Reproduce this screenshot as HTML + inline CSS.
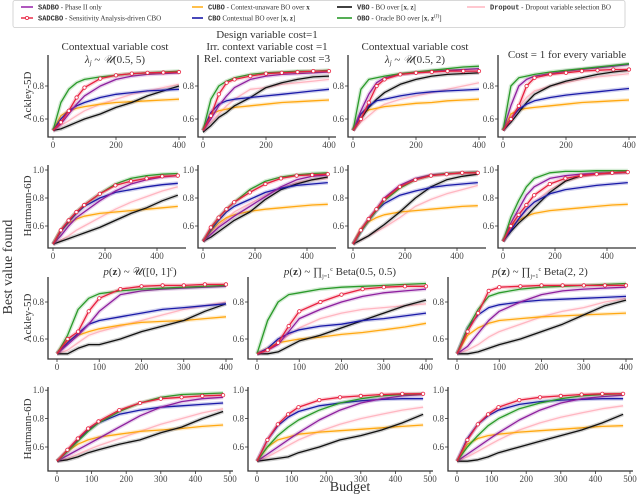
<!DOCTYPE html>
<html><head><meta charset="utf-8"><style>
html,body{margin:0;padding:0;background:#fff;}
svg{display:block;font-family:"Liberation Serif",serif;}
</style></head><body>
<svg id="chart" width="640" height="494" viewBox="0 0 640 494" xmlns="http://www.w3.org/2000/svg">
<g>
<rect x="13" y="0.5" width="612" height="27" rx="2" fill="#fff" stroke="#ccc" stroke-width="0.8"/>
<line x1="21" y1="7" x2="33" y2="7" stroke="#9c2fae" stroke-width="1.6"/>
<text x="38" y="9.5" font-size="7" fill="#333"><tspan font-family="Liberation Mono,monospace" font-weight="bold">SADBO</tspan> - Phase II only</text>
<line x1="21" y1="18" x2="33" y2="18" stroke="#e8203f" stroke-width="1.4"/><circle cx="27" cy="18" r="1.6" fill="#fff" stroke="#e8203f" stroke-width="0.8"/>
<text x="38" y="20.5" font-size="7" fill="#333"><tspan font-family="Liberation Mono,monospace" font-weight="bold">SADCBO</tspan> - Sensitivity Analysis-driven CBO</text>
<line x1="192" y1="7" x2="203" y2="7" stroke="#ffb020" stroke-width="1.6"/>
<text x="208" y="9.5" font-size="7" fill="#333"><tspan font-family="Liberation Mono,monospace" font-weight="bold">CUBO</tspan> - Context-unaware BO over <tspan font-weight="bold">x</tspan></text>
<line x1="192" y1="18" x2="203" y2="18" stroke="#1a1aa8" stroke-width="1.6"/>
<text x="208" y="20.5" font-size="7" fill="#333"><tspan font-family="Liberation Mono,monospace" font-weight="bold">CBO</tspan> Contextual BO over [<tspan font-weight="bold">x</tspan>, <tspan font-weight="bold">z</tspan>]</text>
<line x1="337" y1="7" x2="352" y2="7" stroke="#111" stroke-width="1.6"/>
<text x="357" y="9.5" font-size="7" fill="#333"><tspan font-family="Liberation Mono,monospace" font-weight="bold">VBO</tspan> - BO over [<tspan font-weight="bold">x</tspan>, <tspan font-weight="bold">z</tspan>]</text>
<line x1="337" y1="18" x2="352" y2="18" stroke="#2a9a2a" stroke-width="1.6"/>
<text x="357" y="20.5" font-size="7" fill="#333"><tspan font-family="Liberation Mono,monospace" font-weight="bold">OBO</tspan> - Oracle BO over [<tspan font-weight="bold">x</tspan>, <tspan font-weight="bold">z</tspan><tspan font-size="5" dy="-3">(J)</tspan><tspan dy="3">]</tspan></text>
<line x1="467" y1="7" x2="485" y2="7" stroke="#ffb6c1" stroke-width="1.6"/>
<text x="490" y="9.5" font-size="7" fill="#333"><tspan font-family="Liberation Mono,monospace" font-weight="bold">Dropout</tspan> - Dropout variable selection BO</text>
</g>
<g font-size="11" fill="#333" text-anchor="middle">
<text x="115" y="50">Contextual variable cost</text>
<text x="115" y="63" font-style="italic">λ<tspan font-size="7" dy="2">j</tspan><tspan dy="-2" font-style="normal"> ~ </tspan>𝒰<tspan font-style="normal">(0.5, 5)</tspan></text>
<text x="267" y="38">Design variable cost=1</text>
<text x="267" y="50">Irr. context variable cost =1</text>
<text x="267" y="62">Rel. context variable cost =3</text>
<text x="415" y="50">Contextual variable cost</text>
<text x="415" y="63" font-style="italic">λ<tspan font-size="7" dy="2">j</tspan><tspan dy="-2" font-style="normal"> ~ </tspan>𝒰<tspan font-style="normal">(0.5, 2)</tspan></text>
<text x="567" y="58">Cost = 1 for every variable</text>
<text x="140" y="275"><tspan font-style="italic">p</tspan>(<tspan font-weight="bold">z</tspan>) ~ 𝒰([0, 1]<tspan font-size="7" dy="-4" font-style="italic">c</tspan><tspan dy="4">)</tspan></text>
<text x="340" y="275"><tspan font-style="italic">p</tspan>(<tspan font-weight="bold">z</tspan>) ~ ∏<tspan font-size="6" dy="3">j=1</tspan><tspan font-size="6" dy="-7">c</tspan><tspan dy="4"> Beta(0.5, 0.5)</tspan></text>
<text x="540" y="275"><tspan font-style="italic">p</tspan>(<tspan font-weight="bold">z</tspan>) ~ ∏<tspan font-size="6" dy="3">j=1</tspan><tspan font-size="6" dy="-7">c</tspan><tspan dy="4"> Beta(2, 2)</tspan></text>
</g>
<g fill="#333">
<text x="0" y="0" font-size="14" text-anchor="middle" transform="translate(12,267) rotate(-90)">Best value found</text>
<text x="350" y="491" font-size="14" text-anchor="middle">Budget</text>
<text font-size="11" text-anchor="middle" transform="translate(31,96) rotate(-90)">Ackley-5D</text>
<text font-size="11" text-anchor="middle" transform="translate(31,206) rotate(-90)">Hartmann-6D</text>
<text font-size="11" text-anchor="middle" transform="translate(31,318) rotate(-90)">Ackley-5D</text>
<text font-size="11" text-anchor="middle" transform="translate(31,429) rotate(-90)">Hartmann-6D</text>
</g>
<g id="plots"></g>
</svg>
<script>
const xAck = [0,25,50,75,100,150,200,250,300,350,400];
const xHart = [0,30,60,90,120,180,240,300,360,420,480];
const seriesNames = ["pink","orange","black","blue","purple","green","red"];
const ackTicks = [0.6,0.8];
const hartTicks = [0.6,0.8,1.0];
const xTicksTop = [0,200,400];
const xTicksAckBottom = [0,100,200,300,400];
const xTicksHartBottom = [0,100,200,300,400,500];

// Row 1 (Ackley, cost settings)
const a1Pink=[0.53,0.56,0.59,0.62,0.65,0.69,0.72,0.75,0.77,0.79,0.81];
const a1Orange=[0.53,0.62,0.65,0.665,0.675,0.69,0.70,0.705,0.71,0.715,0.72];
const a1Black=[0.53,0.54,0.56,0.58,0.60,0.63,0.67,0.70,0.74,0.77,0.80];
const a1Blue=[0.53,0.60,0.65,0.68,0.70,0.73,0.75,0.76,0.77,0.775,0.78];
const a1Purple=[0.53,0.57,0.63,0.69,0.74,0.80,0.84,0.86,0.87,0.875,0.88];
const a1Green=[0.53,0.70,0.78,0.82,0.84,0.855,0.865,0.875,0.88,0.885,0.89];
const a1Red=[0.53,0.58,0.65,0.73,0.79,0.845,0.865,0.875,0.88,0.882,0.885];

const a2Pink=[0.53,0.58,0.63,0.68,0.72,0.78,0.79,0.81,0.82,0.83,0.84];
const a2Orange=[0.53,0.63,0.65,0.66,0.67,0.68,0.69,0.70,0.705,0.71,0.715];
const a2Black=[0.52,0.56,0.61,0.64,0.68,0.73,0.79,0.82,0.84,0.855,0.86];
const a2Blue=[0.53,0.64,0.69,0.71,0.72,0.73,0.74,0.75,0.76,0.77,0.78];
const a2Purple=[0.53,0.60,0.68,0.74,0.79,0.84,0.86,0.87,0.875,0.88,0.885];
const a2Green=[0.53,0.72,0.80,0.83,0.85,0.87,0.88,0.885,0.89,0.89,0.895];
const a2Red=[0.53,0.62,0.75,0.82,0.84,0.86,0.875,0.88,0.885,0.89,0.89];

const a3Pink=[0.53,0.58,0.62,0.66,0.69,0.72,0.74,0.76,0.78,0.80,0.82];
const a3Orange=[0.53,0.63,0.655,0.665,0.675,0.685,0.695,0.70,0.71,0.715,0.72];
const a3Black=[0.53,0.60,0.67,0.72,0.76,0.81,0.84,0.86,0.87,0.875,0.88];
const a3Blue=[0.53,0.63,0.68,0.71,0.72,0.74,0.755,0.765,0.77,0.775,0.78];
const a3Purple=[0.53,0.65,0.75,0.82,0.85,0.87,0.88,0.89,0.895,0.90,0.905];
const a3Green=[0.53,0.78,0.84,0.85,0.86,0.875,0.885,0.895,0.905,0.915,0.92];
const a3Red=[0.53,0.60,0.70,0.80,0.84,0.87,0.88,0.885,0.89,0.89,0.89];

const a4Pink=[0.53,0.60,0.67,0.73,0.77,0.80,0.82,0.84,0.855,0.865,0.875];
const a4Orange=[0.53,0.63,0.655,0.665,0.67,0.68,0.69,0.70,0.705,0.71,0.715];
const a4Black=[0.53,0.58,0.64,0.70,0.75,0.80,0.83,0.85,0.87,0.885,0.895];
const a4Blue=[0.53,0.60,0.66,0.69,0.71,0.73,0.745,0.755,0.765,0.775,0.785];
const a4Purple=[0.53,0.68,0.80,0.84,0.86,0.875,0.89,0.90,0.91,0.92,0.93];
const a4Green=[0.53,0.80,0.85,0.86,0.87,0.885,0.895,0.905,0.915,0.925,0.935];
const a4Red=[0.53,0.60,0.68,0.80,0.85,0.87,0.88,0.89,0.895,0.90,0.90];

// Row 2 (Hartmann, cost settings)
const h1Pink=[0.47,0.50,0.53,0.57,0.60,0.66,0.72,0.77,0.81,0.85,0.88];
const h1Orange=[0.47,0.57,0.62,0.65,0.67,0.69,0.70,0.71,0.72,0.73,0.74];
const h1Black=[0.47,0.49,0.51,0.53,0.55,0.59,0.64,0.69,0.73,0.78,0.82];
const h1Blue=[0.47,0.56,0.63,0.69,0.74,0.80,0.84,0.86,0.88,0.895,0.905];
const h1Purple=[0.47,0.53,0.60,0.66,0.70,0.78,0.85,0.90,0.93,0.95,0.96];
const h1Green=[0.47,0.57,0.64,0.70,0.75,0.83,0.90,0.94,0.96,0.97,0.975];
const h1Red=[0.47,0.57,0.64,0.70,0.75,0.83,0.89,0.92,0.94,0.955,0.96];

const h2Pink=[0.49,0.54,0.60,0.65,0.70,0.76,0.82,0.87,0.91,0.93,0.94];
const h2Orange=[0.49,0.56,0.62,0.66,0.68,0.705,0.72,0.73,0.74,0.75,0.755];
const h2Black=[0.49,0.52,0.56,0.60,0.64,0.70,0.79,0.86,0.90,0.93,0.95];
const h2Blue=[0.49,0.57,0.64,0.70,0.74,0.79,0.84,0.87,0.89,0.90,0.91];
const h2Purple=[0.49,0.54,0.59,0.63,0.67,0.74,0.81,0.88,0.93,0.955,0.965];
const h2Green=[0.49,0.58,0.66,0.72,0.77,0.86,0.92,0.95,0.965,0.975,0.98];
const h2Red=[0.49,0.59,0.66,0.72,0.77,0.84,0.90,0.94,0.96,0.965,0.97];

const h3Pink=[0.47,0.50,0.53,0.56,0.59,0.66,0.74,0.79,0.83,0.86,0.89];
const h3Orange=[0.47,0.58,0.63,0.66,0.68,0.70,0.71,0.72,0.73,0.74,0.745];
const h3Black=[0.47,0.50,0.53,0.57,0.61,0.70,0.80,0.88,0.93,0.955,0.97];
const h3Blue=[0.47,0.56,0.64,0.71,0.76,0.82,0.85,0.875,0.89,0.90,0.91];
const h3Purple=[0.47,0.57,0.65,0.72,0.80,0.89,0.94,0.965,0.975,0.98,0.985];
const h3Green=[0.47,0.56,0.64,0.71,0.78,0.87,0.93,0.96,0.975,0.98,0.985];
const h3Red=[0.47,0.57,0.65,0.72,0.79,0.88,0.93,0.96,0.97,0.98,0.98];

const h4Pink=[0.49,0.58,0.65,0.71,0.77,0.86,0.92,0.95,0.97,0.975,0.98];
const h4Orange=[0.49,0.60,0.64,0.67,0.69,0.71,0.72,0.73,0.74,0.75,0.755];
const h4Black=[0.49,0.56,0.62,0.67,0.73,0.84,0.92,0.96,0.975,0.98,0.985];
const h4Blue=[0.49,0.57,0.65,0.72,0.77,0.83,0.86,0.875,0.89,0.90,0.91];
const h4Purple=[0.49,0.62,0.72,0.82,0.88,0.94,0.96,0.97,0.975,0.98,0.985];
const h4Green=[0.49,0.66,0.78,0.88,0.94,0.98,0.99,0.99,0.995,0.995,0.995];
const h4Red=[0.49,0.60,0.68,0.75,0.82,0.90,0.94,0.96,0.97,0.98,0.985];

// Row 3 (Ackley, context distributions)
const b1Pink=[0.52,0.54,0.58,0.62,0.64,0.67,0.70,0.73,0.76,0.78,0.80];
const b1Orange=[0.52,0.59,0.62,0.64,0.655,0.675,0.69,0.695,0.70,0.71,0.72];
const b1Black=[0.52,0.52,0.55,0.57,0.57,0.60,0.64,0.67,0.70,0.75,0.79];
const b1Blue=[0.52,0.58,0.63,0.68,0.70,0.72,0.74,0.76,0.77,0.78,0.79];
const b1Purple=[0.52,0.57,0.62,0.68,0.75,0.84,0.86,0.87,0.875,0.88,0.885];
const b1Green=[0.52,0.62,0.76,0.82,0.845,0.86,0.87,0.875,0.88,0.885,0.89];
const b1Red=[0.52,0.60,0.64,0.75,0.82,0.87,0.885,0.89,0.89,0.895,0.895];

const b2Pink=[0.52,0.54,0.58,0.62,0.66,0.71,0.74,0.76,0.77,0.78,0.79];
const b2Orange=[0.52,0.55,0.58,0.59,0.60,0.61,0.625,0.635,0.65,0.665,0.685];
const b2Black=[0.52,0.52,0.53,0.56,0.59,0.62,0.66,0.70,0.74,0.78,0.81];
const b2Blue=[0.52,0.55,0.60,0.63,0.65,0.67,0.68,0.70,0.71,0.725,0.74];
const b2Purple=[0.52,0.54,0.57,0.64,0.71,0.76,0.80,0.83,0.85,0.86,0.87];
const b2Green=[0.52,0.70,0.80,0.84,0.85,0.87,0.88,0.885,0.89,0.895,0.90];
const b2Red=[0.52,0.54,0.58,0.67,0.75,0.80,0.84,0.87,0.88,0.885,0.885];

const b3Pink=[0.52,0.54,0.57,0.61,0.64,0.68,0.72,0.75,0.77,0.80,0.82];
const b3Orange=[0.52,0.62,0.66,0.685,0.70,0.71,0.72,0.725,0.73,0.735,0.74];
const b3Black=[0.52,0.52,0.53,0.55,0.57,0.60,0.64,0.68,0.73,0.78,0.81];
const b3Blue=[0.52,0.66,0.73,0.77,0.785,0.80,0.81,0.815,0.82,0.825,0.83];
const b3Purple=[0.52,0.56,0.63,0.70,0.75,0.80,0.84,0.86,0.87,0.875,0.88];
const b3Green=[0.52,0.66,0.76,0.83,0.85,0.87,0.88,0.885,0.89,0.895,0.90];
const b3Red=[0.52,0.64,0.74,0.86,0.88,0.885,0.89,0.89,0.89,0.89,0.89];

// Row 4 (Hartmann, context distributions)
const c1Pink=[0.50,0.52,0.55,0.58,0.61,0.66,0.71,0.76,0.80,0.84,0.87];
const c1Orange=[0.50,0.57,0.62,0.65,0.67,0.69,0.71,0.72,0.73,0.745,0.755];
const c1Black=[0.50,0.51,0.53,0.56,0.58,0.62,0.65,0.70,0.74,0.80,0.85];
const c1Blue=[0.50,0.57,0.65,0.72,0.77,0.83,0.86,0.88,0.89,0.90,0.91];
const c1Purple=[0.50,0.54,0.58,0.62,0.66,0.74,0.82,0.88,0.92,0.94,0.95];
const c1Green=[0.50,0.57,0.64,0.71,0.77,0.85,0.91,0.95,0.97,0.975,0.98];
const c1Red=[0.50,0.58,0.66,0.73,0.78,0.86,0.91,0.94,0.95,0.96,0.965];

const c2Pink=[0.50,0.53,0.57,0.61,0.65,0.71,0.76,0.80,0.83,0.86,0.88];
const c2Orange=[0.50,0.60,0.65,0.67,0.69,0.705,0.715,0.725,0.735,0.745,0.755];
const c2Black=[0.50,0.51,0.52,0.53,0.56,0.60,0.65,0.68,0.72,0.77,0.83];
const c2Blue=[0.50,0.65,0.75,0.81,0.85,0.89,0.91,0.925,0.935,0.94,0.94];
const c2Purple=[0.50,0.55,0.60,0.65,0.70,0.79,0.86,0.91,0.94,0.96,0.97];
const c2Green=[0.50,0.60,0.68,0.74,0.79,0.86,0.91,0.94,0.96,0.97,0.975];
const c2Red=[0.50,0.65,0.76,0.83,0.88,0.93,0.95,0.96,0.97,0.975,0.975];

const c3Pink=[0.50,0.53,0.57,0.61,0.65,0.72,0.77,0.81,0.84,0.87,0.89];
const c3Orange=[0.50,0.62,0.66,0.68,0.69,0.705,0.715,0.725,0.735,0.745,0.75];
const c3Black=[0.50,0.50,0.51,0.53,0.56,0.60,0.64,0.68,0.72,0.77,0.83];
const c3Blue=[0.50,0.66,0.76,0.82,0.86,0.90,0.92,0.93,0.935,0.94,0.94];
const c3Purple=[0.50,0.55,0.60,0.65,0.70,0.79,0.86,0.91,0.94,0.955,0.965];
const c3Green=[0.50,0.60,0.68,0.75,0.80,0.87,0.91,0.94,0.96,0.97,0.975];
const c3Red=[0.50,0.65,0.76,0.83,0.88,0.93,0.95,0.96,0.97,0.975,0.975];

const colors = {pink:"#ffb6c1",orange:"#ffa812",black:"#111111",blue:"#1a1aa8",purple:"#8e1f9e",green:"#2a9a2a",red:"#e8203f"};
const NS = "http://www.w3.org/2000/svg";
const plots = document.getElementById('plots');

function mk(tag, attrs, parent){
  const el = document.createElementNS(NS, tag);
  for (const k in attrs) el.setAttribute(k, attrs[k]);
  parent.appendChild(el);
  return el;
}

function panel(cfg, id){
  const g = mk('g', {}, plots);
  
  
  const xs = v => cfg.x0 + v * cfg.kx;
  const ys = v => cfg.yRef - (v - 0.6) * cfg.ky;
  // series
  cfg.series.forEach((arr, i) => {
    const name = seriesNames[i];
    const pts = arr.map((v, j) => xs(cfg.xv[j]).toFixed(1) + ',' + ys(v).toFixed(1)).join(' ');
    const band = mk('polyline', {points: pts, fill: 'none', stroke: colors[name], 'stroke-opacity': 0.2, 'stroke-width': 4, 'stroke-linejoin': 'round'}, g);
    
    
    const line = mk('polyline', {points: pts, fill: 'none', stroke: colors[name], 'stroke-width': 1.3, 'stroke-linejoin': 'round'}, g);
    
    
    if (name === 'red') {
      arr.forEach((v, j) => {
        if (j === 0) return;
        const c = mk('circle', {cx: xs(cfg.xv[j]).toFixed(1), cy: ys(v).toFixed(1), r: 1.7, fill: '#fff', stroke: colors.red, 'stroke-width': 0.8}, g);
        
        
      });
    }
  });
  // spines
  const sp = mk('path', {d: `M${cfg.ax},${cfg.top} V${cfg.bot} H${cfg.right}`, fill: 'none', stroke: '#333', 'stroke-width': 1.3}, g);
  
  
  cfg.yt.forEach(t => {
    const y = ys(t);
    mk('line', {x1: cfg.ax - 3, x2: cfg.ax, y1: y, y2: y, stroke: '#333', 'stroke-width': 0.8}, g);
    const tx = mk('text', {x: cfg.ax - 4, y: y + 3, 'font-size': 9, fill: '#444', 'text-anchor': 'end'}, g);
    tx.textContent = t.toFixed(1);
    
    
  });
  cfg.xt.forEach(t => {
    const x = xs(t);
    mk('line', {x1: x, x2: x, y1: cfg.bot, y2: cfg.bot + 3, stroke: '#333', 'stroke-width': 0.8}, g);
    const tx = mk('text', {x: x, y: cfg.bot + 11, 'font-size': 9, fill: '#444', 'text-anchor': 'middle'}, g);
    tx.textContent = t;
    
    
  });
}

const topAck = [[a1Pink,a1Orange,a1Black,a1Blue,a1Purple,a1Green,a1Red],[a2Pink,a2Orange,a2Black,a2Blue,a2Purple,a2Green,a2Red],[a3Pink,a3Orange,a3Black,a3Blue,a3Purple,a3Green,a3Red],[a4Pink,a4Orange,a4Black,a4Blue,a4Purple,a4Green,a4Red]];
const topHart = [[h1Pink,h1Orange,h1Black,h1Blue,h1Purple,h1Green,h1Red],[h2Pink,h2Orange,h2Black,h2Blue,h2Purple,h2Green,h2Red],[h3Pink,h3Orange,h3Black,h3Blue,h3Purple,h3Green,h3Red],[h4Pink,h4Orange,h4Black,h4Blue,h4Purple,h4Green,h4Red]];
const botAck = [[b1Pink,b1Orange,b1Black,b1Blue,b1Purple,b1Green,b1Red],[b2Pink,b2Orange,b2Black,b2Blue,b2Purple,b2Green,b2Red],[b3Pink,b3Orange,b3Black,b3Blue,b3Purple,b3Green,b3Red]];
const botHart = [[c1Pink,c1Orange,c1Black,c1Blue,c1Purple,c1Green,c1Red],[c2Pink,c2Orange,c2Black,c2Blue,c2Purple,c2Green,c2Red],[c3Pink,c3Orange,c3Black,c3Blue,c3Purple,c3Green,c3Red]];

for (let i = 0; i < 4; i++) {
  const ax = 48 + 150 * i;
  panel({ax, x0: ax + 5, kx: 126/400, top: 55, bot: 137, right: ax + 138, yRef: 119, ky: 165, xv: xAck, yt: ackTicks, xt: xTicksTop, series: topAck[i]}, 'ackley-cost-' + (i+1));
  panel({ax, x0: ax + 5, kx: 0.26, top: 165, bot: 248, right: ax + 138, yRef: 226, ky: 140, xv: xHart, yt: hartTicks, xt: xTicksTop, series: topHart[i]}, 'hartmann-cost-' + (i+1));
}
for (let i = 0; i < 3; i++) {
  const ax = 48 + 200 * i;
  panel({ax, x0: ax + 9, kx: 0.4225, top: 277, bot: 359, right: ax + 185, yRef: 339, ky: 185, xv: xAck, yt: ackTicks, xt: xTicksAckBottom, series: botAck[i]}, 'ackley-dist-' + (i+1));
  panel({ax, x0: ax + 9, kx: 0.346, top: 387, bot: 471, right: ax + 185, yRef: 447, ky: 142, xv: xHart, yt: hartTicks, xt: xTicksHartBottom, series: botHart[i]}, 'hartmann-dist-' + (i+1));
}
</script>
</body></html>
